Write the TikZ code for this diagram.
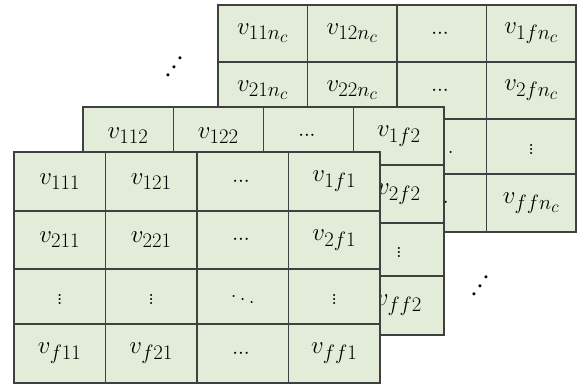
\documentclass[tikz,border=0pt]{standalone}
\usepackage{amsmath}
\usepackage{tikz}
\usetikzlibrary{
    positioning
}

\definecolor{cellgreen}{RGB}{226,236,216}

\begin{document}
\begin{tikzpicture}[
    x=1pt,
    y=-1pt,
    cell/.style={
        draw=black!75,
        line width=1.1pt,
        fill=cellgreen,
        anchor=north west,
        outer sep=0pt,
        inner sep=0pt,
        font=\fontsize{24.88}{30}\selectfont
    },
    moredots/.style={
        inner sep=0pt,
        rotate=90,
        scale=2,
        font=\bfseries
    }
]

\useasboundingbox (0,0) rectangle (581,385);

% back layer (channel n_c)
\foreach \lab [count=\k from 0] in {
    v_{11n_c}, v_{12n_c}, \scriptstyle\cdots, v_{1fn_c},
    v_{21n_c}, v_{22n_c}, \scriptstyle\cdots, v_{2fn_c},
    \vdots, \vdots, \ddots, \vdots,
    v_{f1n_c}, v_{f2n_c}, \scriptstyle\cdots, v_{ffn_c}} {
    \pgfmathtruncatemacro{\row}{\k/4}
    \pgfmathtruncatemacro{\col}{mod(\k,4)}
    \pgfmathsetmacro{\rowtop}{{0,57,114,169}[\row]}
    \pgfmathsetmacro{\rowheight}{{57,57,55,58}[\row]}
    \node[cell, minimum width=89.5pt, minimum height=\rowheight pt]
        (back-\row-\col) at (218+89.5*\col, 5+\rowtop) {$\lab$};
}

% middle layer (channel 2)
\foreach \lab [count=\k from 0] in {
    v_{112}, v_{122}, \scriptstyle\cdots, v_{1f2},
    v_{212}, v_{222}, \scriptstyle\cdots, v_{2f2},
    \vdots, \vdots, \ddots, \vdots,
    v_{f12}, v_{f22}, \scriptstyle\cdots, v_{ff2}} {
    \pgfmathtruncatemacro{\row}{\k/4}
    \pgfmathtruncatemacro{\col}{mod(\k,4)}
    \pgfmathsetmacro{\rowtop}{{0,58,116,169}[\row]}
    \pgfmathsetmacro{\rowheight}{{58,58,53,59}[\row]}
    \node[cell, minimum width=90.25pt, minimum height=\rowheight pt]
        (mid-\row-\col) at (83+90.25*\col, 107+\rowtop) {$\lab$};
}

% front layer (channel 1)
\foreach \lab [count=\k from 0] in {
    v_{111}, v_{121}, \scriptstyle\cdots, v_{1f1},
    v_{211}, v_{221}, \scriptstyle\cdots, v_{2f1},
    \vdots, \vdots, \ddots, \vdots,
    v_{f11}, v_{f21}, \scriptstyle\cdots, v_{ff1}} {
    \pgfmathtruncatemacro{\row}{\k/4}
    \pgfmathtruncatemacro{\col}{mod(\k,4)}
    \pgfmathsetmacro{\rowtop}{{0,59,117,172}[\row]}
    \pgfmathsetmacro{\rowheight}{{59,58,55,59}[\row]}
    \node[cell, minimum width=91.5pt, minimum height=\rowheight pt]
        (front-\row-\col) at (14+91.5*\col, 152+\rowtop) {$\lab$};
}

% dots between the layers
\node[moredots] (dots-top) at (168,67) {$\ddots$};
\node[moredots] (dots-bottom) at (474,286) {$\ddots$};

\end{tikzpicture}
\end{document}
